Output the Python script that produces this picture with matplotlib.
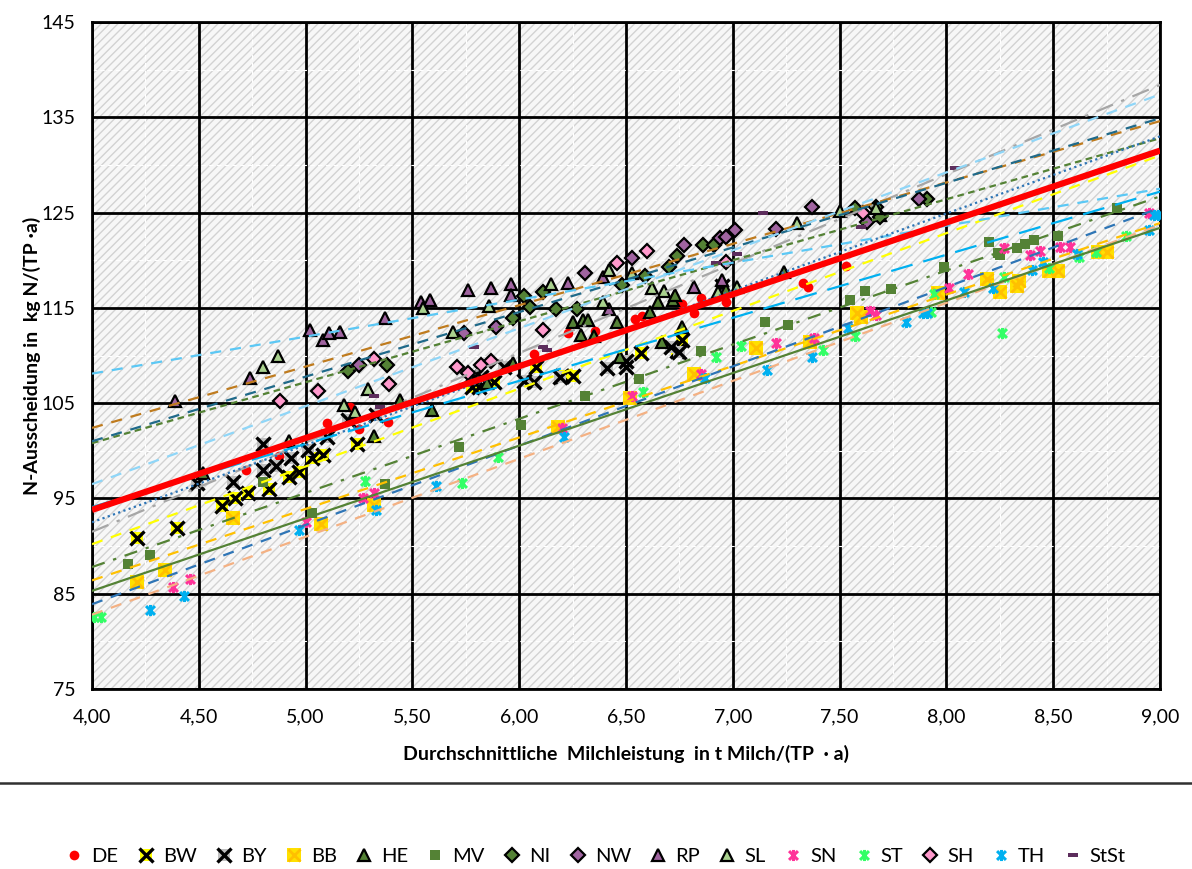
import matplotlib
matplotlib.use("Agg")
import matplotlib.pyplot as plt
import numpy as np
from matplotlib.path import Path
from matplotlib.patches import Rectangle
from matplotlib.lines import Line2D
from matplotlib.legend_handler import HandlerTuple
from matplotlib.ticker import MultipleLocator, FuncFormatter

plt.rcParams['font.family'] = ['Lato', 'DejaVu Sans']
plt.rcParams['hatch.linewidth'] = 1.0
plt.rcParams['hatch.color'] = '#D2D2D2'

# Datenpunkte je Bundesland (Milchleistung t/(TP a), N-Ausscheidung kg N/(TP a))
de_x = [4.72, 4.875, 5.10, 5.21, 5.25, 5.385, 6.07, 6.23, 6.355, 6.54, 6.575, 6.76, 6.82, 6.85, 6.97, 7.33, 7.35, 7.53]
de_y = [98.0, 99.5, 102.9, 104.6, 102.3, 103.0, 110.2, 112.4, 112.6, 113.8, 114.1, 115.4, 114.5, 116.0, 115.6, 117.6, 117.2, 119.4]

bw_x = [4.21, 4.40, 4.61, 4.67, 4.73, 4.83, 4.92, 4.97, 5.03, 5.08, 5.24, 5.78, 5.81, 5.88, 6.08, 6.20, 6.25, 6.57, 6.74, 6.76]
bw_y = [90.9, 91.9, 94.2, 95.0, 95.6, 96.0, 97.3, 97.8, 99.2, 99.6, 100.7, 106.7, 106.7, 107.2, 108.8, 107.9, 107.9, 110.3, 110.5, 111.6]

by_x = [4.49, 4.66, 4.80, 4.80, 4.86, 4.93, 5.01, 5.10, 5.20, 5.33, 5.79, 5.82, 5.93, 6.02, 6.07, 6.19, 6.41, 6.50, 6.50, 6.71, 6.75, 6.95]
by_y = [96.6, 96.7, 98.0, 100.7, 98.4, 99.2, 100.1, 101.5, 103.2, 103.8, 107.7, 107.7, 108.8, 107.3, 107.2, 107.7, 108.7, 109.4, 108.8, 110.9, 110.4, 117.3]

bb_x = [4.21, 4.34, 4.66, 5.07, 5.32, 6.18, 6.52, 6.82, 7.11, 7.36, 7.58, 7.60, 7.96, 8.19, 8.25, 8.33, 8.34, 8.48, 8.52, 8.71, 8.75]
bb_y = [86.2, 87.5, 93.0, 92.3, 94.3, 102.5, 105.5, 108.1, 110.8, 111.4, 114.5, 114.0, 116.6, 118.0, 116.7, 117.3, 117.8, 118.9, 118.9, 120.9, 120.9]

he_x = [4.52, 5.32, 5.44, 5.59, 5.85, 5.97, 6.25, 6.29, 6.30, 6.32, 6.35, 6.46, 6.47, 6.61, 6.65, 6.67, 6.72, 6.73, 6.76, 6.97, 7.24, 7.69]
he_y = [97.7, 101.6, 105.3, 104.3, 107.1, 109.2, 113.5, 112.2, 113.7, 113.7, 112.0, 113.5, 109.8, 114.6, 115.6, 111.4, 115.8, 116.3, 113.0, 116.9, 118.8, 124.7]

mv_x = [4.17, 4.27, 4.80, 5.03, 5.37, 5.72, 6.01, 6.31, 6.56, 6.85, 7.15, 7.26, 7.55, 7.62, 7.74, 7.99, 8.20, 8.24, 8.25, 8.33, 8.37, 8.41, 8.52, 8.80]
mv_y = [88.1, 89.1, 96.7, 93.5, 96.5, 100.4, 102.7, 105.7, 107.5, 110.5, 113.5, 113.2, 115.8, 116.8, 117.0, 119.3, 121.9, 120.8, 120.5, 121.3, 121.7, 122.1, 122.5, 125.5]

ni_x = [5.20, 5.38, 5.97, 6.02, 6.05, 6.11, 6.17, 6.27, 6.48, 6.59, 6.70, 6.74, 6.86, 6.91, 7.57, 7.67, 7.69, 7.91]
ni_y = [108.4, 109.0, 113.9, 116.2, 115.1, 116.7, 114.9, 114.9, 117.4, 118.3, 119.3, 120.4, 121.6, 121.6, 125.5, 125.6, 124.5, 126.4]

nw_x = [5.25, 5.74, 5.89, 6.31, 6.53, 6.77, 6.94, 6.97, 7.01, 7.20, 7.37, 7.63, 7.87]
nw_y = [109.0, 112.4, 113.0, 118.7, 120.2, 121.6, 122.3, 122.4, 123.2, 123.3, 125.6, 124.0, 126.4]

rp_x = [4.39, 4.74, 5.02, 5.08, 5.11, 5.16, 5.37, 5.54, 5.58, 5.76, 5.87, 5.96, 5.96, 6.23, 6.39, 6.42, 6.82, 6.95]
rp_y = [105.2, 107.6, 112.7, 111.6, 112.4, 112.5, 113.9, 115.6, 115.8, 116.9, 117.1, 117.5, 116.4, 117.6, 118.2, 114.9, 117.2, 117.9]

sl_x = [4.80, 4.87, 4.92, 5.18, 5.23, 5.29, 5.55, 5.69, 5.86, 6.15, 6.39, 6.42, 6.53, 6.62, 6.68, 6.93, 7.02, 7.30, 7.50, 7.67]
sl_y = [108.8, 110.0, 101.0, 104.8, 104.1, 106.5, 115.0, 112.5, 115.2, 117.5, 115.6, 119.0, 118.7, 117.1, 116.8, 116.7, 117.2, 123.9, 125.2, 125.5]

sn_x = [4.38, 4.46, 5.00, 5.27, 5.32, 6.20, 6.53, 6.85, 7.20, 7.38, 7.64, 7.67, 8.01, 8.10, 8.27, 8.39, 8.44, 8.53, 8.58, 8.95]
sn_y = [85.7, 86.5, 92.5, 95.0, 95.6, 102.4, 105.7, 108.1, 111.3, 111.8, 114.7, 114.2, 117.1, 118.6, 121.3, 120.5, 121.0, 121.4, 121.4, 125.0]

st_x = [4.01, 4.04, 5.28, 5.73, 5.90, 6.58, 6.92, 7.04, 7.42, 7.57, 7.93, 7.94, 8.26, 8.27, 8.48, 8.62, 8.70, 8.84]
st_y = [82.6, 82.6, 96.8, 96.6, 99.3, 106.2, 109.8, 111.0, 110.6, 112.0, 114.6, 116.5, 112.4, 118.2, 119.2, 120.3, 120.9, 122.5]

sh_x = [4.88, 5.06, 5.32, 5.39, 5.71, 5.76, 5.82, 5.87, 6.11, 6.46, 6.60, 6.97, 7.61]
sh_y = [105.2, 106.3, 109.6, 107.0, 108.8, 108.2, 109.0, 109.4, 112.7, 119.7, 121.0, 119.8, 125.0]

th_x = [4.27, 4.43, 4.97, 5.33, 5.61, 6.21, 6.87, 7.16, 7.37, 7.54, 7.81, 7.89, 7.91, 8.08, 8.22, 8.40, 8.45, 8.61, 8.95, 8.97, 8.99]
th_y = [83.3, 84.8, 91.7, 93.8, 96.3, 101.5, 107.6, 108.5, 109.8, 112.9, 113.5, 114.5, 114.5, 116.7, 117.1, 119.0, 119.8, 120.6, 123.2, 124.7, 124.7]

stst_x = [5.32, 5.35, 5.79, 6.11, 6.13, 6.92, 7.02, 7.14, 7.60, 8.04]
stst_y = [105.8, 104.6, 110.9, 110.9, 110.6, 119.7, 120.7, 125.0, 123.5, 129.7]

# lineare Trendlinien: Wert bei 4 t und bei 9 t
trend_at_4 = {'DE': 93.8, 'BW': 90.2, 'BY': 91.5, 'BB': 86.4, 'HE': 100.8, 'MV': 87.8, 'NI': 102.4, 'NW': 101.0,
              'RP': 108.1, 'SL': 92.5, 'SN': 83.9, 'ST': 82.8, 'SH': 96.5, 'TH': 85.3, 'StSt': 94.1}
trend_at_9 = {'DE': 131.5, 'BW': 131.0, 'BY': 138.4, 'BB': 123.9, 'HE': 132.8, 'MV': 126.7, 'NI': 134.6, 'NW': 134.9,
              'RP': 127.5, 'SL': 133.0, 'SN': 125.5, 'ST': 123.7, 'SH': 137.4, 'TH': 123.4, 'StSt': 127.2}

asterisk = Path([(-1, -1), (1, 1), (-1, 1), (1, -1), (0, -1.25), (0, 1.25)],
                [Path.MOVETO, Path.LINETO, Path.MOVETO, Path.LINETO, Path.MOVETO, Path.LINETO])
bar = Path([(-1, -0.45), (1, -0.45), (1, 0.45), (-1, 0.45), (-1, -0.45)],
           [Path.MOVETO, Path.LINETO, Path.LINETO, Path.LINETO, Path.CLOSEPOLY])

# (Name, x, y, Marker-Stile (überlagert), Trendlinien-Stil)
series = [
    ('DE', de_x, de_y, [dict(marker='o', ms=7, mfc='#FF0000', mec='#FF0000', mew=0)], None),
    ('BW', bw_x, bw_y, [dict(marker='s', ms=9, mfc='#FFFF00', mec='#FFFF00', mew=0),
                        dict(marker='x', ms=10, mec='#000000', mew=2.4)], dict(color='#FFFF00', ls=(0, (5, 4)))),
    ('BY', by_x, by_y, [dict(marker='s', ms=9, mfc='#BFBFBF', mec='#BFBFBF', mew=0),
                        dict(marker='x', ms=10, mec='#000000', mew=2.4)], dict(color='#A6A6A6', ls=(0, (8, 4, 1.5, 4)))),
    ('BB', bb_x, bb_y, [dict(marker='s', ms=10, mfc='#FFE000', mec='#FFE000', mew=0),
                        dict(marker='x', ms=9, mec='#FFC000', mew=2)], dict(color='#FFC000', ls=(0, (5, 4)))),
    ('HE', he_x, he_y, [dict(marker='^', ms=8, mfc='#548235', mec='#000000', mew=1.6)], dict(color='#548235', ls=(0, (3, 2)))),
    ('MV', mv_x, mv_y, [dict(marker='s', ms=7.5, mfc='#548235', mec='#548235', mew=0)], dict(color='#548235', ls=(0, (6, 4, 1.5, 4)))),
    ('NI', ni_x, ni_y, [dict(marker='D', ms=7, mfc='#548235', mec='#000000', mew=1.6)], dict(color='#BF7B1E', ls=(0, (5, 4)))),
    ('NW', nw_x, nw_y, [dict(marker='D', ms=7, mfc='#A064A0', mec='#000000', mew=1.6)], dict(color='#1F6A8A', ls=(0, (5, 4)))),
    ('RP', rp_x, rp_y, [dict(marker='^', ms=8, mfc='#A064A0', mec='#000000', mew=1.6)], dict(color='#5BC8F5', ls=(0, (5, 4)))),
    ('SL', sl_x, sl_y, [dict(marker='^', ms=8, mfc='#A9D18E', mec='#000000', mew=1.6)], dict(color='#2E75B6', ls=(0, (1, 1.5)))),
    ('SN', sn_x, sn_y, [dict(marker=asterisk, ms=8, mec='#FF3399', mew=2.2)], dict(color='#2E75B6', ls=(0, (5, 4)))),
    ('ST', st_x, st_y, [dict(marker=asterisk, ms=8, mec='#33FF66', mew=2.2)], dict(color='#F4B183', ls=(0, (5, 4)))),
    ('SH', sh_x, sh_y, [dict(marker='D', ms=7, mfc='#FF99CC', mec='#000000', mew=1.6)], dict(color='#8FD6F8', ls=(0, (5, 4)))),
    ('TH', th_x, th_y, [dict(marker=asterisk, ms=8, mec='#00B0F0', mew=2.2)], dict(color='#548235', ls='-')),
    ('StSt', stst_x, stst_y, [dict(marker=bar, ms=7, mfc='#5C2D5C', mec='#5C2D5C', mew=0)], dict(color='#00B0F0', ls=(0, (10, 5)))),
]

fig = plt.figure(figsize=(11.92, 8.69), dpi=100)
ax = fig.add_axes([0.0772, 0.2071, 0.8960, 0.7676])

# schraffierter Hintergrund
ax.add_patch(Rectangle((0, 0), 1, 1, transform=ax.transAxes, facecolor='#F7F7F7',
                       edgecolor='#D2D2D2', hatch='////', lw=0, zorder=0.1))

handles = []
labels = []
for name, xs, ys, mstyles, _ in series:
    parts = []
    for st in mstyles:
        h, = ax.plot(xs, ys, ls='none', zorder=3, **st)
        parts.append(h)
    handles.append(tuple(parts))
    labels.append(name)

xline = np.array([4.0, 9.0])
for name, xs, ys, _, lstyle in series:
    if lstyle is None:
        continue
    yline = [trend_at_4[name], trend_at_9[name]]
    ax.plot(xline, yline, lw=1.6, zorder=4, **lstyle)
ax.plot(xline, [trend_at_4['DE'], trend_at_9['DE']], color='#FF0000', lw=4.5, zorder=5,
        solid_capstyle='butt')

ax.set_xlim(4, 9)
ax.set_ylim(75, 145)
ax.xaxis.set_major_locator(MultipleLocator(0.5))
ax.xaxis.set_minor_locator(MultipleLocator(0.25))
ax.set_yticks(np.arange(75, 146, 10))
ax.yaxis.set_minor_locator(MultipleLocator(5))
ax.xaxis.set_major_formatter(FuncFormatter(lambda v, p: f'{v:.2f}'.replace('.', ',')))
ax.yaxis.set_major_formatter(FuncFormatter(lambda v, p: f'{v:.0f}'))
ax.set_axisbelow(True)
ax.grid(which='major', color='#000000', lw=2)
ax.grid(which='minor', color='#FFFFFF', lw=0.8, ls=(0, (4, 3)))
ax.tick_params(which='both', length=0, labelsize=14, colors='#000000')
ax.tick_params(axis='x', pad=14)
ax.tick_params(axis='y', pad=12)
for s in ax.spines.values():
    s.set_color('#000000')
    s.set_linewidth(2)

ax.set_xlabel('Durchschnittliche  Milchleistung  in t Milch/(TP  · a)', fontsize=14, fontweight='bold', labelpad=14)
ax.set_ylabel('N-Ausscheidung in  kg N/(TP ·a)', fontsize=14, fontweight='bold')
ax.yaxis.set_label_coords(-0.048, 0.5)

fig.add_artist(Line2D([0, 1], [0.099, 0.099], transform=fig.transFigure, color='#303030', lw=1.8))

fig.legend(handles, labels, handler_map={tuple: HandlerTuple(ndivide=1)},
           loc='center', bbox_to_anchor=(0.5, 0.014), ncol=15, frameon=False,
           fontsize=14.5, handlelength=0.8, handletextpad=0.45, columnspacing=0.95)

fig.savefig('out.png', dpi=100)
